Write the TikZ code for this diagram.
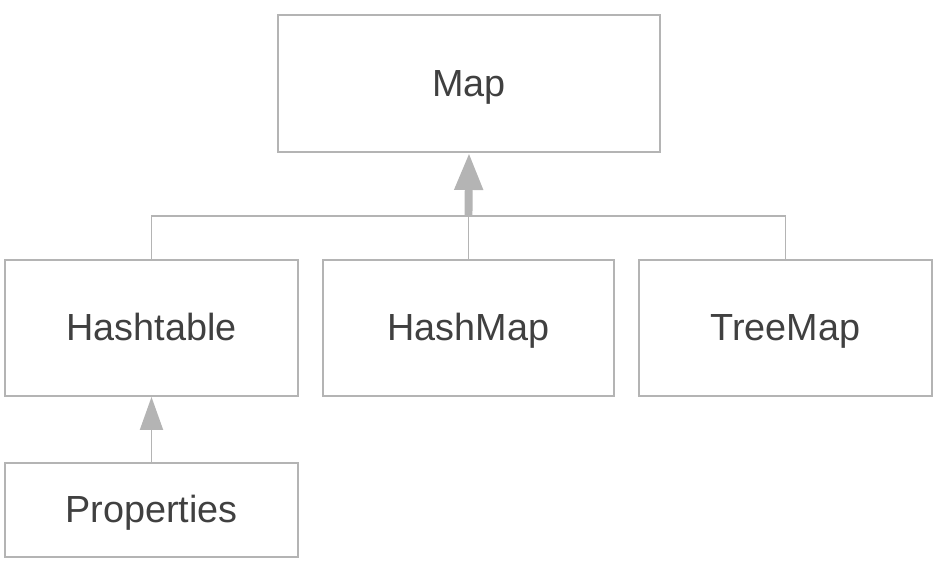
\documentclass[tikz,border=0pt]{standalone}
\usepackage{fontspec}
\setmainfont{Liberation Sans}
\usetikzlibrary{arrows.meta, positioning}
\definecolor{lineGray}{RGB}{180, 180, 180}
\definecolor{textGray}{RGB}{64, 64, 64}

\begin{document}
\begin{tikzpicture}[
        box/.style={rectangle, draw=lineGray, line width=1.1pt, fill=white,
          minimum width=5.86cm, minimum height=2.72cm, text centered,
          text height=14.5pt, text depth=0pt,
          text=textGray, font=\fontsize{21.5}{26}\selectfont},
        link/.style={lineGray, line width=1.1pt},
        arrow/.style={link, -{Triangle[width=0.46cm, length=0.66cm]}},
        bigarrow/.style={lineGray, line width=4.5pt, -{Triangle[width=0.54cm, length=0.74cm]}}
      ]
        \useasboundingbox (0,0) rectangle (18.76,-11.32);
        \node[box, minimum width=7.64cm, minimum height=2.74cm] (map) at (9.38,-1.67) {Map};
        \node[box] (hashtable) at (3.03,-6.56) {Hashtable};
        \node[box, minimum width=5.82cm] (hashmap) at (9.37,-6.56) {HashMap};
        \node[box] (treemap) at (15.71,-6.56) {TreeMap};
        \node[box, minimum height=1.88cm] (props) at (3.03,-10.2) {Properties};
        \coordinate (bus) at (hashmap.north |- 0,-4.32);
        \draw[link] (hashtable.north) |- (bus) -| (treemap.north);
        \draw[link] (hashmap.north) -- (bus);
        \draw[bigarrow] (bus) -- (map.south);
        \draw[arrow] (props) -- (hashtable);
      \end{tikzpicture}
\end{document}
